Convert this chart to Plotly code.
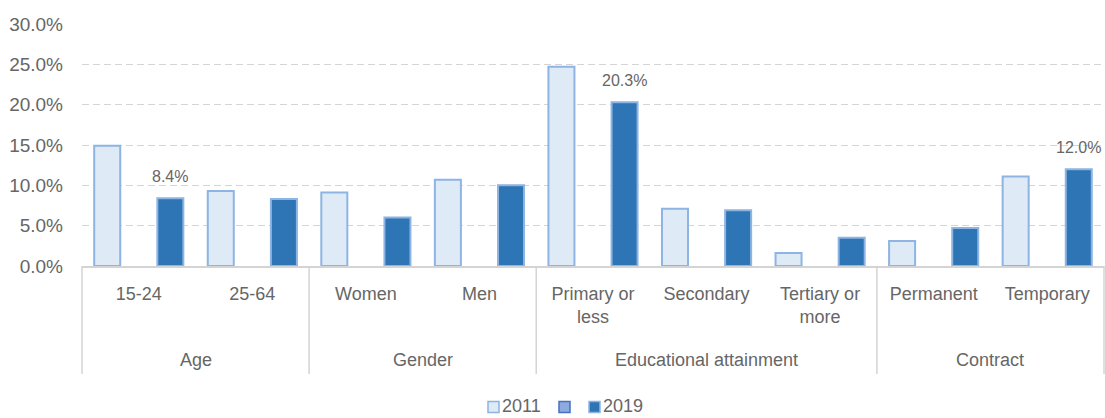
import plotly.graph_objects as go

# Categories along the x axis (with line breaks for the long labels)
categories = ["15-24", "25-64", "Women", "Men", "Primary or less",
              "Secondary", "Tertiary or more", "Permanent", "Temporary"]
tick_labels = ["15-24", "25-64", "Women", "Men", "Primary or<br>less",
               "Secondary", "Tertiary or<br>more", "Permanent", "Temporary"]

# Group headings: (label, first category index, last category index)
group_names = ["Age", "Gender", "Educational attainment", "Contract"]
group_first = [0, 2, 4, 7]
group_last = [1, 3, 6, 8]

# Shares (fractions) per category
values_2011 = [0.149, 0.093, 0.091, 0.107, 0.247, 0.071, 0.016, 0.031, 0.111]
values_2019 = [0.084, 0.083, 0.060, 0.100, 0.203, 0.069, 0.035, 0.047, 0.120]

# Only these 2019 values carry a data label
labelled_2019 = ["15-24", "Primary or less", "Temporary"]

TEXT = "#666666"
GRID = "#d4d4d4"
FONT = "Liberation Sans, Arial, sans-serif"
BARGAP = 0.166

W, H = 1105, 418
M = dict(l=82, r=1, t=24, b=152)
PLOT_W = W - M["l"] - M["r"]
PLOT_H = H - M["t"] - M["b"]


def px_x(p):
    """Horizontal pixel -> paper coordinate."""
    return (p - M["l"]) / PLOT_W


def px_y(p):
    """Vertical pixel (from top) -> paper coordinate."""
    return (H - M["b"] - p) / PLOT_H


series = [
    dict(name="2011", values=values_2011, fill="#deebf7", edge="#8db4e2"),
    dict(name="", values=[None] * len(categories), fill="#8faadc", edge="#4472c4"),
    dict(name="2019", values=values_2019, fill="#2e75b6", edge="#8db4e2"),
]

fig = go.Figure()
for s in series:
    fig.add_trace(go.Bar(
        name=s["name"], x=categories, y=s["values"], showlegend=False,
        marker=dict(color=s["fill"], line=dict(color=s["edge"], width=2)),
    ))

# Value labels above the selected 2019 bars
slot = (1 - BARGAP) / 3
annotations = []
for i, cat in enumerate(categories):
    if cat in labelled_2019:
        annotations.append(dict(
            x=i + slot, y=values_2019[i], xref="x", yref="y",
            text=f"{values_2019[i] * 100:.1f}%", showarrow=False,
            yanchor="bottom", yshift=11,
            font=dict(size=16, color=TEXT, family=FONT),
        ))

# Group headings under the category labels
for name, a, b in zip(group_names, group_first, group_last):
    annotations.append(dict(
        x=(a + b) / 2, y=px_y(360), xref="x", yref="paper",
        text=name, showarrow=False, yanchor="middle",
        font=dict(size=18, color=TEXT, family=FONT),
    ))

# Vertical dividers between the groups
n = len(categories)
bounds = [group_first[0] - 0.5] + [b + 0.5 for b in group_last]
shapes = []
for bnd in bounds:
    xp = (bnd + 0.5) / n
    shapes.append(dict(
        type="line", xref="paper", yref="paper",
        x0=xp, x1=xp, y0=0, y1=px_y(374),
        line=dict(color=GRID, width=1.5),
    ))

# Legend row: swatch + label for each series
legend_swatch_left = [488, 559, 589]
legend_y = 407
for s, left in zip(series, legend_swatch_left):
    shapes.append(dict(
        type="rect", xref="paper", yref="paper",
        x0=px_x(left), x1=px_x(left + 11),
        y0=px_y(legend_y - 5.5), y1=px_y(legend_y + 5.5),
        fillcolor=s["fill"], line=dict(color=s["edge"], width=1.5),
    ))
    if s["name"]:
        annotations.append(dict(
            x=px_x(left + 12), y=px_y(legend_y - 1), xref="paper", yref="paper",
            text=s["name"], showarrow=False, xanchor="left", yanchor="middle",
            font=dict(size=18, color=TEXT, family=FONT),
        ))

fig.update_layout(
    width=W, height=H,
    margin=M,
    paper_bgcolor="white", plot_bgcolor="white",
    barmode="group", bargap=BARGAP, bargroupgap=0.176,
    font=dict(family=FONT, color=TEXT),
    annotations=annotations, shapes=shapes,
    showlegend=False,
)
fig.update_xaxes(
    type="category", range=[-0.5, n - 0.5],
    tickvals=categories, ticktext=tick_labels,
    tickfont=dict(size=18, color=TEXT, family=FONT),
    showline=True, linecolor=GRID, linewidth=2,
    showgrid=False, ticks="", ticklabelstandoff=10,
)
fig.update_yaxes(
    range=[0, 0.3001], dtick=0.05, tickformat=".1%",
    tickfont=dict(size=19, color=TEXT, family=FONT),
    showgrid=True, gridcolor=GRID, gridwidth=1, griddash="7px,4px",
    zeroline=False, showline=False, ticks="", ticklabelstandoff=18,
)

fig.write_html("out.html")
